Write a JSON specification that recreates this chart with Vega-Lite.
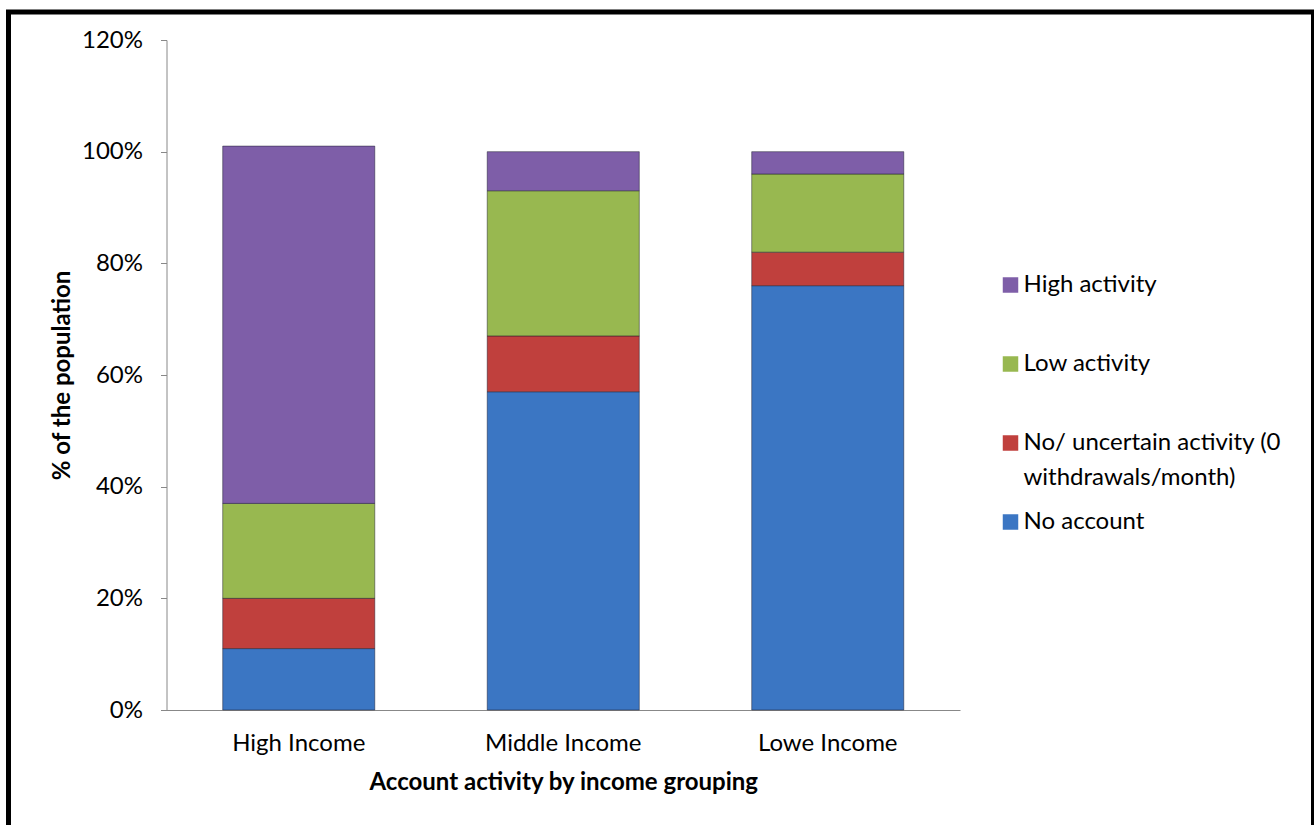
{
  "$schema": "https://vega.github.io/schema/vega-lite/v6.json",
  "autosize": {"type": "none"},
  "padding": {"left": 8.5, "top": 12, "right": 0, "bottom": 0},
  "width": 1305,
  "height": 830,
  "background": "white",
  "view": {"stroke": "#000000", "strokeWidth": 5},
  "config": {
    "font": "Lato",
    "axis": {"labelColor": "#000", "titleColor": "#000"},
    "style": {"guide-label": {"lineHeight": 35}}
  },
  "data": {
    "values": [
      {"group": "High Income", "activity": "No account", "order": 1, "value": 0.11},
      {"group": "High Income", "activity": "No/ uncertain activity (0 withdrawals/month)", "order": 2, "value": 0.09},
      {"group": "High Income", "activity": "Low activity", "order": 3, "value": 0.17},
      {"group": "High Income", "activity": "High activity", "order": 4, "value": 0.64},
      {"group": "Middle Income", "activity": "No account", "order": 1, "value": 0.57},
      {"group": "Middle Income", "activity": "No/ uncertain activity (0 withdrawals/month)", "order": 2, "value": 0.10},
      {"group": "Middle Income", "activity": "Low activity", "order": 3, "value": 0.26},
      {"group": "Middle Income", "activity": "High activity", "order": 4, "value": 0.07},
      {"group": "Lowe Income", "activity": "No account", "order": 1, "value": 0.76},
      {"group": "Lowe Income", "activity": "No/ uncertain activity (0 withdrawals/month)", "order": 2, "value": 0.06},
      {"group": "Lowe Income", "activity": "Low activity", "order": 3, "value": 0.14},
      {"group": "Lowe Income", "activity": "High activity", "order": 4, "value": 0.04}
    ]
  },
  "mark": {"type": "bar", "stroke": "#1a1a2a", "strokeWidth": 0.8, "strokeOpacity": 0.6},
  "encoding": {
    "x": {
      "field": "group",
      "type": "nominal",
      "sort": ["High Income", "Middle Income", "Lowe Income"],
      "scale": {"range": [158, 951.5], "paddingInner": 0.425, "paddingOuter": 0.2125},
      "axis": {
        "title": "Account activity by income grouping",
        "offset": -132,
        "labelAngle": 0,
        "ticks": false,
        "domainColor": "#888888",
        "labelFontSize": 24,
        "labelPadding": 21,
        "titleFontSize": 24,
        "titleFontWeight": "bold",
        "titlePadding": 15
      }
    },
    "y": {
      "field": "value",
      "type": "quantitative",
      "stack": "zero",
      "scale": {"domain": [0, 1.2], "range": [698, 28], "nice": false},
      "axis": {
        "title": "% of the population",
        "format": ".0%",
        "values": [0, 0.2, 0.4, 0.6, 0.8, 1.0, 1.2],
        "offset": -158,
        "grid": false,
        "tickSize": 6,
        "tickColor": "#888888",
        "domainColor": "#888888",
        "labelFontSize": 24,
        "labelPadding": 18,
        "titleFontSize": 24,
        "titleFontWeight": "bold",
        "titlePadding": 7
      }
    },
    "color": {
      "field": "activity",
      "type": "nominal",
      "scale": {
        "domain": ["High activity", "Low activity", "No/ uncertain activity (0 withdrawals/month)", "No account"],
        "range": ["#7E5EA8", "#98B850", "#C0403D", "#3B76C3"]
      },
      "legend": {
        "title": null,
        "orient": "none",
        "legendX": 990,
        "legendY": 261,
        "symbolType": "square",
        "symbolSize": 240,
        "symbolStrokeWidth": 0,
        "labelFontSize": 24,
        "labelOffset": 1,
        "labelLimit": 400,
        "rowPadding": 20,
        "labelExpr": "datum.label == 'No/ uncertain activity (0 withdrawals/month)' ? ['No/ uncertain activity (0', 'withdrawals/month)'] : [datum.label, '']"
      }
    },
    "order": {"field": "order", "type": "quantitative"}
  }
}
